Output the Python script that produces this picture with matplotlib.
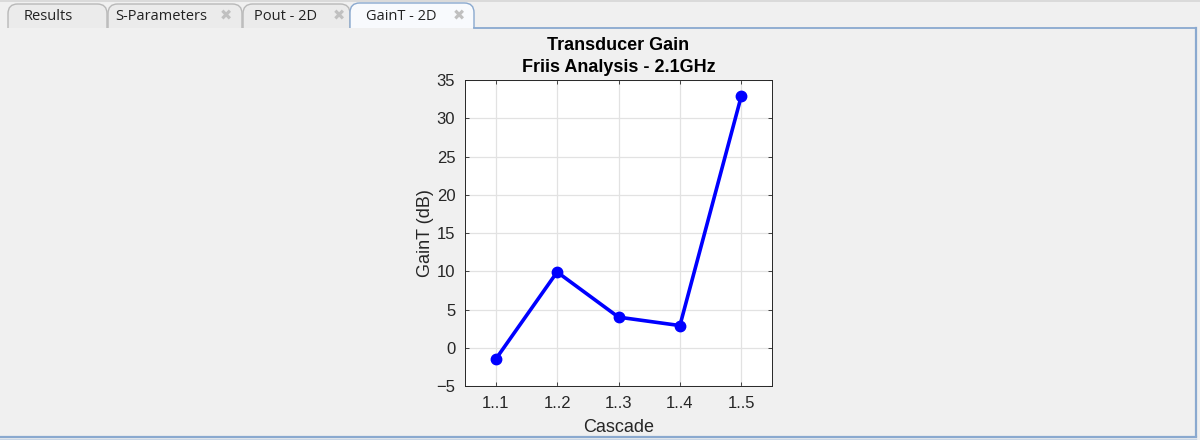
import matplotlib
matplotlib.use("Agg")
import matplotlib.pyplot as plt
from matplotlib.patches import FancyBboxPatch, Rectangle
from matplotlib.lines import Line2D

# ---- data ----
cascade_labels = ["1..1", "1..2", "1..3", "1..4", "1..5"]
gain_db = [-1.5, 9.9, 4.0, 2.9, 32.9]
y_ticks = [-5, 0, 5, 10, 15, 20, 25, 30, 35]
tab_names = ["Results", "S-Parameters", "Pout - 2D", "GainT - 2D"]
title_lines = ["Transducer Gain", "Friis Analysis - 2.1GHz"]

W, H = 1200, 440
fig = plt.figure(figsize=(W / 100, H / 100), dpi=100)
fig.patch.set_facecolor("#f0f0f0")
plt.rcParams["font.family"] = ["Liberation Sans", "DejaVu Sans"]

def fx(x):
    return x / W

def fy(y):
    return 1 - y / H

# top strip
fig.add_artist(Rectangle((0, fy(2)), 1, 2 / H, transform=fig.transFigure,
                         facecolor="#dadada", edgecolor="none", zorder=1))

border_col = "#8aa9cf"

# tabs
tab_spans = [(8, 107), (108, 242), (243, 350), (350, 474)]
text_x = [48, 161, 286, 401]
close_x = [None, 226, 339, 459]
for i, (name, (x0, x1)) in enumerate(zip(tab_names, tab_spans)):
    active = (i == len(tab_names) - 1)
    y_top = 3 if active else 4
    y_bot = 40
    face = "#f8fafd" if active else "#ebebeb"
    edge = border_col if active else "#b8b8b8"
    p = FancyBboxPatch((fx(x0), fy(y_bot)), fx(x1 - x0), (y_bot - y_top) / H,
                       boxstyle="round,pad=0,rounding_size=0.008",
                       transform=fig.transFigure, facecolor=face, edgecolor=edge,
                       lw=1.0, mutation_aspect=W / H, zorder=2)
    fig.add_artist(p)
    fig.text(fx(text_x[i]), fy(16.5), name, ha="center", va="center",
             fontsize=10.5, color="#222222", family=["Open Sans", "DejaVu Sans"], zorder=5)
    if close_x[i] is not None:
        fig.text(fx(close_x[i]), fy(16), "\u2716", ha="center", va="center",
                 fontsize=10.5, color="#c0c0c0", family="DejaVu Sans", zorder=5)

# panel background below tabs
fig.add_artist(Rectangle((0, 0), 1, fy(28.5), transform=fig.transFigure,
                         facecolor="#f0f0f0", edgecolor="none", zorder=3))
# panel border (blue)
fig.add_artist(Line2D([fx(474), fx(1196)], [fy(28.5), fy(28.5)], transform=fig.transFigure,
                      color=border_col, lw=1.3, zorder=4))
fig.add_artist(Line2D([fx(1196), fx(1196)], [fy(28.5), fy(436)], transform=fig.transFigure,
                      color=border_col, lw=1.6, zorder=4))
fig.add_artist(Line2D([fx(0), fx(1196)], [fy(436.5), fy(436.5)], transform=fig.transFigure,
                      color=border_col, lw=1.6, zorder=4))
fig.add_artist(Line2D([fx(0), fx(1196)], [fy(438.5), fy(438.5)], transform=fig.transFigure,
                      color="#c9d6e6", lw=1.0, zorder=4))

# ---- axes ----
ax = fig.add_axes([465 / W, 1 - 386 / H, (772 - 465) / W, (386 - 80) / H], zorder=6)
ax.set_facecolor("white")
x = list(range(1, len(cascade_labels) + 1))
ax.plot(x, gain_db, color="#0000ff", lw=2.6, marker="o", markersize=7.5, zorder=3)
ax.set_xlim(0.5, 5.5)
ax.set_ylim(-5, 35)
ax.set_xticks(x)
ax.set_xticklabels(cascade_labels)
ax.set_yticks(y_ticks)
ax.grid(True, color="#e2e2e2", lw=0.9)
ax.set_axisbelow(True)
for s in ax.spines.values():
    s.set_color("#262626")
    s.set_linewidth(0.7)
ax.tick_params(direction="in", length=3, width=0.6, color="#262626",
               labelsize=12, labelcolor="#262626", pad=7, top=True, right=True)
ax.set_xlabel("Cascade", fontsize=13, color="#262626", labelpad=6)
ax.set_ylabel("GainT (dB)", fontsize=13, color="#262626", labelpad=2)
ax.set_title("\n".join(title_lines), fontsize=13, fontweight="bold", color="black",
             pad=6, linespacing=1.35)

fig.savefig("out.png", dpi=100, facecolor=fig.get_facecolor())
